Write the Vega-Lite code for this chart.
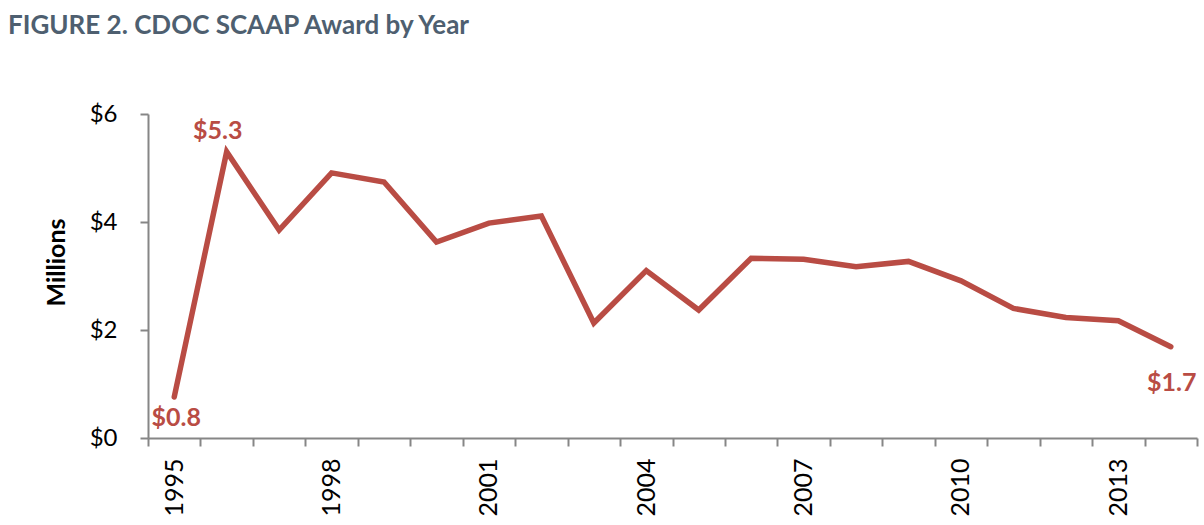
{
  "$schema": "https://vega.github.io/schema/vega-lite/v6.json",
  "autosize": {"type": "none"},
  "width": 1049,
  "height": 324,
  "padding": {"left": 148, "top": 114, "right": 7, "bottom": 87},
  "background": "white",
  "config": {"view": {"stroke": null}, "font": "Lato"},
  "title": {
    "text": "FIGURE 2. CDOC SCAAP Award by Year",
    "anchor": "start",
    "frame": "group",
    "font": "Lato",
    "fontSize": 26,
    "fontWeight": "bold",
    "color": "#4e5f70",
    "dx": -140,
    "dy": -42,
    "baseline": "alphabetic",
    "offset": 0
  },
  "data": {
    "values": [
      {"year": 1995, "award": 0.76},
      {"year": 1996, "award": 5.30},
      {"year": 1997, "award": 3.85},
      {"year": 1998, "award": 4.91},
      {"year": 1999, "award": 4.74},
      {"year": 2000, "award": 3.63},
      {"year": 2001, "award": 3.98},
      {"year": 2002, "award": 4.11},
      {"year": 2003, "award": 2.13},
      {"year": 2004, "award": 3.10},
      {"year": 2005, "award": 2.37},
      {"year": 2006, "award": 3.33},
      {"year": 2007, "award": 3.31},
      {"year": 2008, "award": 3.17},
      {"year": 2009, "award": 3.27},
      {"year": 2010, "award": 2.91},
      {"year": 2011, "award": 2.40},
      {"year": 2012, "award": 2.23},
      {"year": 2013, "award": 2.17},
      {"year": 2014, "award": 1.69}
    ]
  },
  "encoding": {
    "x": {"field": "year", "type": "quantitative", "scale": {"domain": [1994.5, 2014.5], "nice": false, "zero": false}, "axis": null},
    "y": {"field": "award", "type": "quantitative", "scale": {"domain": [0, 6], "nice": false}}
  },
  "layer": [
    {
      "mark": {"type": "line", "color": "#b94c44", "strokeWidth": 5.5, "strokeCap": "round", "strokeJoin": "miter"},
      "encoding": {
        "x": {"field": "year", "type": "quantitative", "axis": {
          "orient": "bottom",
          "values": [1994.5,1995.5,1996.5,1997.5,1998.5,1999.5,2000.5,2001.5,2002.5,2003.5,2004.5,2005.5,2006.5,2007.5,2008.5,2009.5,2010.5,2011.5,2012.5,2013.5,2014.5],
          "labels": false, "title": null, "grid": false,
          "domainColor": "#868686", "domainWidth": 2,
          "tickColor": "#868686", "tickWidth": 2, "tickSize": 8
        }},
        "y": {"field": "award", "type": "quantitative", "axis": {
          "values": [0, 2, 4, 6],
          "labelExpr": "'$' + datum.value",
          "labelFont": "Lato", "labelFontSize": 24, "labelColor": "#000000", "labelPadding": 23,
          "domainColor": "#868686", "domainWidth": 2,
          "tickColor": "#868686", "tickWidth": 2, "tickSize": 8,
          "grid": false,
          "title": "Millions", "titleFont": "Lato", "titleFontSize": 25, "titleFontWeight": "bold", "titleColor": "#000000",
          "titleY": 148, "titleX": -92, "titleBaseline": "middle", "titleAlign": "center"
        }}
      }
    },
    {
      "mark": {"type": "point", "opacity": 0},
      "encoding": {
        "x": {"field": "year", "type": "quantitative", "axis": {
          "orient": "bottom",
          "values": [1995, 1998, 2001, 2004, 2007, 2010, 2013],
          "format": "d", "labelAngle": -90, "labelAlign": "right", "labelBaseline": "middle",
          "labelFont": "Lato", "labelFontSize": 25, "labelColor": "#000000", "labelPadding": 20,
          "ticks": false, "tickSize": 0, "domain": false, "grid": false, "title": null
        }}
      }
    },
    {
      "transform": [{"filter": "datum.year == 1995"}],
      "mark": {"type": "text", "color": "#b94c44", "font": "Lato", "fontSize": 25, "fontWeight": "bold", "dx": 2, "dy": 21},
      "encoding": {"text": {"field": "award", "type": "quantitative", "format": "$.1f"}}
    },
    {
      "transform": [{"filter": "datum.year == 1996"}],
      "mark": {"type": "text", "color": "#b94c44", "font": "Lato", "fontSize": 25, "fontWeight": "bold", "dx": -9, "dy": -21},
      "encoding": {"text": {"field": "award", "type": "quantitative", "format": "$.1f"}}
    },
    {
      "transform": [{"filter": "datum.year == 2014"}],
      "mark": {"type": "text", "color": "#b94c44", "font": "Lato", "fontSize": 25, "fontWeight": "bold", "dx": 1, "dy": 36},
      "encoding": {"text": {"field": "award", "type": "quantitative", "format": "$.1f"}}
    }
  ],
  "resolve": {"axis": {"x": "independent"}}
}
